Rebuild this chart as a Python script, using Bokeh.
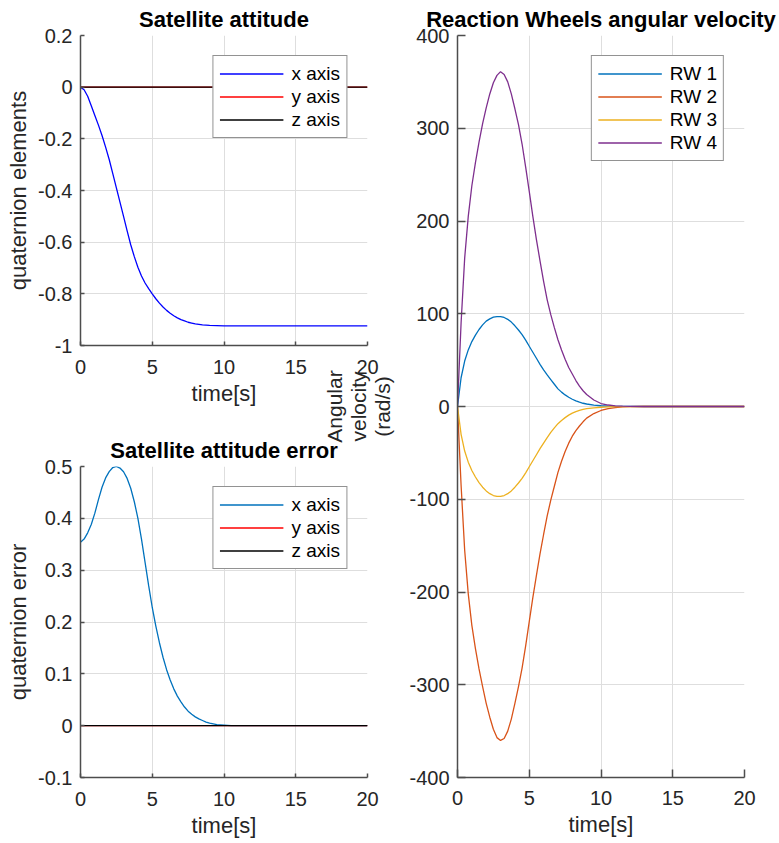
from bokeh.plotting import figure
from bokeh.models import Range1d, FixedTicker, Legend, LegendItem
from bokeh.layouts import row, column
from bokeh.embed import file_html
from bokeh.resources import INLINE

# ---------------- data ----------------
t = [0, 0.25, 0.5, 0.75, 1, 1.25, 1.5, 1.75, 2, 2.25, 2.5, 2.75, 3, 3.25, 3.5, 3.75,
     4, 4.25, 4.5, 4.75, 5, 5.25, 5.5, 5.75, 6, 6.25, 6.5, 6.75, 7, 7.25, 7.5, 7.75,
     8, 8.25, 8.5, 8.75, 9, 9.5, 10, 10.5, 11, 11.5, 12, 13, 14, 15, 16, 17, 18, 19, 20]

att_x = [0, -0.01, -0.035, -0.072, -0.11, -0.147, -0.187, -0.232, -0.28, -0.335, -0.39, -0.445,
         -0.50, -0.556, -0.61, -0.656, -0.697, -0.731, -0.758, -0.78, -0.80, -0.819, -0.836,
         -0.851, -0.864, -0.875, -0.885, -0.893, -0.900, -0.905, -0.910, -0.913, -0.916,
         -0.918, -0.920, -0.921, -0.922, -0.923, -0.924, -0.924, -0.924, -0.924, -0.924,
         -0.924, -0.924, -0.924, -0.924, -0.924, -0.924, -0.924, -0.924]

flat_t = [0, 20]
att_y = [0, 0]
att_z = [0, 0]

err_x = [0.354, 0.360, 0.372, 0.388, 0.410, 0.436, 0.460, 0.478, 0.490, 0.498, 0.500, 0.497,
         0.490, 0.477, 0.458, 0.432, 0.400, 0.360, 0.315, 0.270, 0.228, 0.192, 0.160, 0.132,
         0.108, 0.088, 0.071, 0.057, 0.046, 0.036, 0.028, 0.022, 0.017, 0.013, 0.010, 0.007,
         0.005, 0.002, 0.001, 0, 0, 0, 0, 0, 0, 0, 0, 0, 0, 0, 0]
err_y = [0, 0]
err_z = [0, 0]

rw1 = [0, 31, 49, 61, 70, 77, 83, 88, 92, 94.5, 96.3, 97, 97, 96, 94, 91, 87, 82.5, 77.5,
       71.5, 65, 58.5, 52, 45.5, 39.5, 34, 29, 24, 19, 15.5, 12.5, 10, 7.8, 6, 4.6, 3.5,
       2.7, 1.5, 0.8, 0.4, 0.2, 0.1, 0.05, 0, 0, 0, 0, 0, 0, 0, 0]
rw2 = [0, -85, -155, -202, -236, -261, -283, -302, -320, -335, -348, -357, -360, -358, -350,
       -337, -320, -302, -282, -258, -232, -206, -182, -159, -138, -118, -101, -86, -71, -59,
       -48.5, -39.5, -32, -26, -21, -16.5, -12.5, -7.6, -4.3, -2.2, -1.1, -0.5, -0.2,
       0, 0, 0, 0, 0, 0, 0, 0]
rw3 = [0, -30, -48, -60, -69, -76, -82, -87, -91, -94, -96, -97, -97, -96, -94, -91, -87,
       -82.5, -77.5, -71.5, -65, -58.5, -52, -45.5, -39.5, -33.5, -28, -23, -18.5, -15, -12,
       -9.3, -7.2, -5.5, -4.2, -3.2, -2.4, -1.4, -0.8, -0.4, -0.2, -0.1, -0.05,
       0, 0, 0, 0, 0, 0, 0, 0]
rw4 = [0, 90, 160, 205, 238, 263, 285, 305, 322, 337, 349, 357, 361, 358, 350, 337, 321,
       304, 283, 258, 232, 205, 180, 157, 135, 115, 99, 85, 72, 61, 51, 42, 35, 28, 22, 17,
       13, 7, 3.2, 1.6, 0.7, 0.3, 0.1, 0, 0, 0, 0, 0, 0, 0, 0]

time_ticks = [0, 5, 10, 15, 20]
time_tick_labels = ["0", "5", "10", "15", "20"]
att_ticks = [-1, -0.8, -0.6, -0.4, -0.2, 0, 0.2]
att_tick_labels = ["-1", "-0.8", "-0.6", "-0.4", "-0.2", "0", "0.2"]
err_ticks = [-0.1, 0, 0.1, 0.2, 0.3, 0.4, 0.5]
err_tick_labels = ["-0.1", "0", "0.1", "0.2", "0.3", "0.4", "0.5"]
rw_ticks = [-400, -300, -200, -100, 0, 100, 200, 300, 400]
rw_tick_labels = ["-400", "-300", "-200", "-100", "0", "100", "200", "300", "400"]

att_names = ["x axis", "y axis", "z axis"]
rw_names = ["RW 1", "RW 2", "RW 3", "RW 4"]

# ---------------- styling ----------------
FONT = "Liberation Sans"
TXT = "#262626"
AXC = "#4d4d4d"
GRID = "#dedede"


def make_fig(fw, fh, bl, br, bt, bb, xr, yr, yticks, ylabels, tick_len,
             title, ylabel, ylabel_standoff, xtick_standoff):
    p = figure(width=bl + fw + br, height=bt + fh + bb,
               x_range=Range1d(*xr), y_range=Range1d(*yr),
               min_border_left=bl, min_border_right=br,
               min_border_top=bt, min_border_bottom=bb,
               output_backend="svg", toolbar_location=None, tools="")
    p.outline_line_color = None
    p.border_fill_color = None
    p.background_fill_color = "white"
    p.title.text = title
    p.title.align = "center"
    p.title.text_font = FONT
    p.title.text_font_size = "22px"
    p.title.text_font_style = "bold"
    p.title.text_color = "#000000"
    p.title.standoff = 7
    p.xaxis.ticker = FixedTicker(ticks=time_ticks)
    p.xaxis.major_label_overrides = {k: v for k, v in zip(time_ticks, time_tick_labels)}
    p.yaxis.ticker = FixedTicker(ticks=yticks)
    p.yaxis.major_label_overrides = {k: v for k, v in zip(yticks, ylabels)}
    for ax in (p.xaxis[0], p.yaxis[0]):
        ax.major_tick_in = tick_len
        ax.major_tick_out = 0
        ax.minor_tick_line_color = None
        ax.axis_line_color = AXC
        ax.axis_line_width = 1.5
        ax.major_tick_line_color = AXC
        ax.major_tick_line_width = 1.5
        ax.major_label_text_font = FONT
        ax.major_label_text_font_size = "20px"
        ax.major_label_text_color = TXT
        ax.axis_label_text_font = FONT
        ax.axis_label_text_font_size = "22px"
        ax.axis_label_text_font_style = "normal"
        ax.axis_label_text_color = TXT
    p.xaxis.axis_label = "time[s]"
    p.xaxis.major_label_standoff = xtick_standoff
    p.xaxis.axis_label_standoff = 4
    p.yaxis.axis_label = ylabel
    p.yaxis.major_label_standoff = 8
    p.yaxis.axis_label_standoff = ylabel_standoff
    p.grid.grid_line_color = GRID
    p.grid.grid_line_width = 1
    return p


def add_legend(p, items):
    leg = Legend(items=items, location="top_right", margin=20, padding=6, spacing=0,
                 glyph_width=64, glyph_height=23, label_height=23, label_standoff=8,
                 label_text_font=FONT, label_text_font_size="19px", label_text_color="#000000",
                 border_line_color=TXT, border_line_width=1.2, background_fill_color="white",
                 background_fill_alpha=1)
    p.add_layout(leg)


FW = 287
LW = 1.3

# top-left: Satellite attitude
p1 = make_fig(FW, 310, 80, 23, 35, 75, (0, 20), (-1, 0.2), att_ticks, att_tick_labels, 4,
              "Satellite attitude", "quaternion elements", 4, 14)
a1 = p1.line(t, att_x, line_color="#0000ff", line_width=LW)
a2 = p1.line(flat_t, att_y, line_color="#ff0000", line_width=LW)
a3 = p1.line(flat_t, att_z, line_color="#000000", line_width=LW)
add_legend(p1, [LegendItem(label=n, renderers=[r]) for n, r in zip(att_names, [a1, a2, a3])])

# bottom-left: Satellite attitude error
p2 = make_fig(FW, 311, 80, 23, 46, 63, (0, 20), (-0.1, 0.5), err_ticks, err_tick_labels, 4,
              "Satellite attitude error", "quaternion error", 4, 14)
e1 = p2.line(t, err_x, line_color="#0072bd", line_width=LW)
e2 = p2.line(flat_t, err_y, line_color="#ff0000", line_width=LW)
e3 = p2.line(flat_t, err_z, line_color="#000000", line_width=LW)
add_legend(p2, [LegendItem(label=n, renderers=[r]) for n, r in zip(att_names, [e1, e2, e3])])

# right: Reaction Wheels angular velocity
p3 = make_fig(FW, 742, 140, 35, 35, 63, (0, 20), (-400, 400), rw_ticks, rw_tick_labels, 8,
              "Reaction Wheels angular velocity", "Angular\nvelocity\n(rad/s)", 12, 13)
p3.yaxis.axis_label_text_font_size = "21px"
p3.yaxis.axis_label_text_line_height = 1.05
rw_colors = ["#0072bd", "#d95319", "#edb120", "#7e2f8e"]
rr = [p3.line(t, s, line_color=c, line_width=LW) for s, c in zip([rw1, rw2, rw3, rw4], rw_colors)]
add_legend(p3, [LegendItem(label=n, renderers=[r]) for n, r in zip(rw_names, rr)])

p3.margin = (0, 0, 0, -73)

layout = row(column(p1, p2), p3)
open("out.html", "w").write(file_html(layout, INLINE))
